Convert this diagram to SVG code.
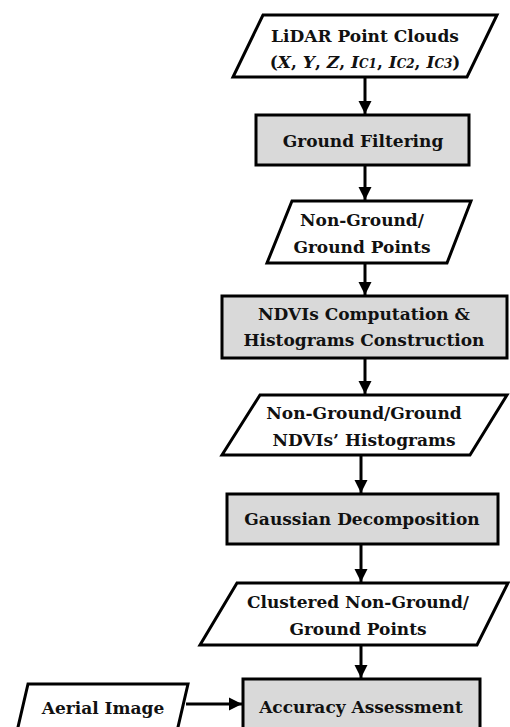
<svg xmlns="http://www.w3.org/2000/svg" width="510" height="727" viewBox="0 0 510 727">
<defs>
<marker id="ah" viewBox="0 0 10 10" refX="10" refY="5" markerWidth="4.5" markerHeight="4.5" orient="auto" markerUnits="strokeWidth">
<path d="M0,0 L10,5 L0,10 z" fill="#000"/>
</marker>
<style>
.shape{stroke:#000;stroke-width:3;stroke-linejoin:miter}
.proc{fill:#d9d9d9}
.io{fill:#fff}
.t{font-family:"DejaVu Serif","Liberation Serif",serif;font-weight:bold;font-size:17px;fill:#111;text-anchor:middle}
.c{stroke:#000;stroke-width:3;fill:none;marker-end:url(#ah)}
</style>
</defs>
<rect width="510" height="727" fill="#fff"/>
<g id="connectors">
<line class="c" x1="365" y1="77" x2="365" y2="114"/>
<line class="c" x1="365" y1="165" x2="365" y2="200"/>
<line class="c" x1="365" y1="263" x2="365" y2="295"/>
<line class="c" x1="365" y1="358" x2="365" y2="394"/>
<line class="c" x1="361" y1="455" x2="361" y2="493"/>
<line class="c" x1="361" y1="544" x2="361" y2="582"/>
<line class="c" x1="361" y1="645" x2="361" y2="678"/>
<line class="c" x1="186" y1="704" x2="242" y2="704"/>
</g>
<g id="lidar">
<polygon class="shape io" points="263,15 497,15 467,77 233,77"/>
<text class="t" x="365" y="42">LiDAR Point Clouds</text>
<text class="t" x="365" y="68" font-size="16">(<tspan font-style="italic">X</tspan>, <tspan font-style="italic">Y</tspan>, <tspan font-style="italic">Z</tspan>, <tspan font-style="italic">I</tspan><tspan font-style="italic" font-size="12">C1</tspan>, <tspan font-style="italic">I</tspan><tspan font-style="italic" font-size="12">C2</tspan>, <tspan font-style="italic">I</tspan><tspan font-style="italic" font-size="12">C3</tspan>)</text>
</g>
<g id="ground-filtering">
<rect class="shape proc" x="256" y="115" width="213" height="50"/>
<text class="t" x="363" y="147">Ground Filtering</text>
</g>
<g id="ng-points">
<polygon class="shape io" points="292,201 471,201 447,263 267,263"/>
<text class="t" x="362" y="226">Non-Ground/</text>
<text class="t" x="362" y="253">Ground Points</text>
</g>
<g id="ndvi">
<rect class="shape proc" x="222" y="296" width="285" height="62"/>
<text class="t" x="364" y="320">NDVIs Computation &amp;</text>
<text class="t" x="364" y="346">Histograms Construction</text>
</g>
<g id="ng-hist">
<polygon class="shape io" points="260,395 507,395 470,455 222,455"/>
<text class="t" x="364" y="419">Non-Ground/Ground</text>
<text class="t" x="364" y="446">NDVIs’ Histograms</text>
</g>
<g id="gaussian">
<rect class="shape proc" x="227" y="494" width="271" height="50"/>
<text class="t" x="362" y="525">Gaussian Decomposition</text>
</g>
<g id="clustered">
<polygon class="shape io" points="237,583 508,583 477,645 200,645"/>
<text class="t" x="358" y="608">Clustered Non-Ground/</text>
<text class="t" x="358" y="635">Ground Points</text>
</g>
<g id="accuracy">
<rect class="shape proc" x="243" y="679" width="237" height="60"/>
<text class="t" x="361" y="713">Accuracy Assessment</text>
</g>
<g id="aerial">
<polygon class="shape io" points="28,684 188,684 175,740 15,740"/>
<text class="t" x="103" y="714">Aerial Image</text>
</g>
</svg>
